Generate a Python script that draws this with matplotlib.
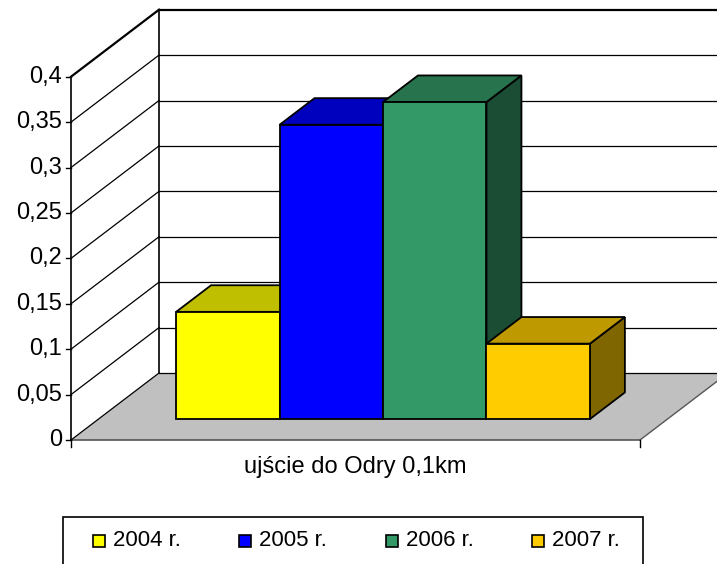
import numpy as np
import matplotlib
matplotlib.use('Agg')
import matplotlib.pyplot as plt
from matplotlib.patches import Polygon, Rectangle
from matplotlib.colors import to_rgb

# Data
category = 'ujście do Odry 0,1km'
series = ['2004 r.', '2005 r.', '2006 r.', '2007 r.']
values = [0.118, 0.324, 0.349, 0.083]
colors = ['#FFFF00', '#0000FF', '#339966', '#FFCC00']
yticks = [0, 0.05, 0.1, 0.15, 0.2, 0.25, 0.3, 0.35, 0.4]

plt.rcParams['font.family'] = ['Liberation Sans', 'DejaVu Sans']
FS_TICK = 17
FS_CAT = 17
FS_LEG = 16

W, H = 717, 564
fig = plt.figure(figsize=(W / 100, H / 100), dpi=100)
ax = fig.add_axes([0, 0, 1, 1])
ax.axis('off')

# front plane: category axis 0..1 spans px 71..640, value 0..0.4 spans px 440..76.7
px_x = 569.0
px_y = (440 - 76.7) / 0.4
ax.set_xlim(-71 / px_x, (W - 71) / px_x)
ax.set_ylim(-(H - 440) / px_y, 0.4 + 76.7 / px_y)

# depth vector (full floor depth) in data units
DX, DY = 88 / px_x, 67 / px_y
d0, d1 = 0.313, 0.71


def P(x, v, d):
    return (x + d * DX, v + d * DY)


def shade(c, f):
    r, g, b = to_rgb(c)
    return (r * f, g * f, b * f)


ymax = yticks[-1]

# floor
ax.add_patch(Polygon([P(0, 0, 0), P(1, 0, 0), P(1, 0, 1), P(0, 0, 1), P(0, 0, 0)],
                     closed=True, facecolor='#C0C0C0', edgecolor='none', zorder=1))
ax.plot(*zip(P(0, 0, 0), P(1, 0, 0)), color='#555555', lw=1.2, zorder=2)
ax.plot(*zip(P(1, 0, 0), P(1, 0, 1)), color='#555555', lw=1.0, zorder=2)

# gridlines on side and back walls
for v in yticks:
    lw = 1.6 if v == ymax else 0.9
    ax.plot(*zip(P(0, v, 0), P(0, v, 1)), color='black', lw=lw, zorder=2)
    ax.plot(*zip(P(0, v, 1), P(1.2, v, 1)), color='black', lw=lw, zorder=2)
    # tick marks
    ax.plot([-5 / px_x, 0], [v, v], color='black', lw=1, zorder=2)
    ax.text(-9 / px_x, v, f'{round(v, 2):g}'.replace('.', ','), ha='right', va='center',
            fontsize=FS_TICK, zorder=3)

ax.plot(*zip(P(0, 0, 1), P(0, ymax, 1)), color='black', lw=1.2, zorder=2)
ax.plot([0, 0], [0, ymax], color='black', lw=1.2, zorder=2)
for xt in [0, 1]:
    ax.plot([xt, xt], [0, -7 / px_y], color='black', lw=1, zorder=2)

# bars
w = 1 / (len(values) + 1.5)
gap = 0.75 * w
for i, (v, c) in enumerate(zip(values, colors)):
    l = gap + i * w
    r = l + w
    side = [P(r, 0, d0), P(r, v, d0), P(r, v, d1), P(r, 0, d1)]
    top = [P(l, v, d0), P(r, v, d0), P(r, v, d1), P(l, v, d1)]
    front = [P(l, 0, d0), P(r, 0, d0), P(r, v, d0), P(l, v, d0)]
    z = 5 + i
    ax.add_patch(Polygon(side, closed=True, facecolor=shade(c, 0.5), edgecolor='black', lw=1.3, zorder=z))
    ax.add_patch(Polygon(top, closed=True, facecolor=shade(c, 0.75), edgecolor='black', lw=1.3, zorder=z))
    ax.add_patch(Polygon(front, closed=True, facecolor=c, edgecolor='black', lw=1.3, zorder=z))

# category label
ax.text(0.5, -27 / px_y, category, ha='center', va='center', fontsize=FS_CAT, zorder=3)

# legend (pixel layout)
def fx(x):
    return x / W


def fy(y):
    return 1 - y / H


fig.patches.append(Rectangle((fx(63), fy(600)), (643 - 63) / W, (600 - 517) / H,
                             transform=fig.transFigure, facecolor='white', edgecolor='black',
                             lw=1.2, zorder=10))
for i, (s, c) in enumerate(zip(series, colors)):
    x = 93 + i * 146.3
    fig.patches.append(Rectangle((fx(x), fy(547)), 12 / W, 12 / H, transform=fig.transFigure,
                                 facecolor=c, edgecolor='black', lw=1.2, zorder=11))
    fig.text(fx(x + 20), fy(541), s, ha='left', va='center', fontsize=FS_LEG, zorder=12)

fig.savefig('out.png', dpi=100)
